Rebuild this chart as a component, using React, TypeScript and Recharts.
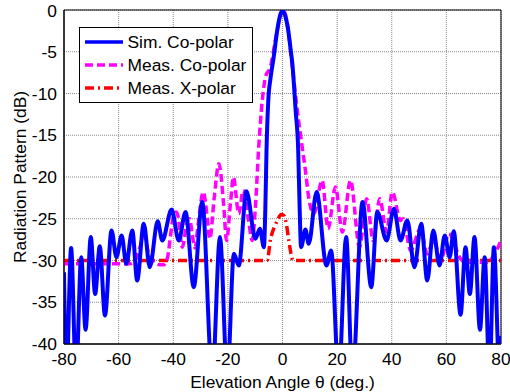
import React from "react"
import { LineChart, Line, XAxis, YAxis, CartesianGrid, Legend, ReferenceArea } from "recharts"

// angles in degrees, gains in dB
const simAngle = [
  -80, -79.1, -77.4, -75.6, -73.7, -72.1, -70.2, -68.6, -66.9, -65.0, -62.6, -60.8, -58.9, -57.2, -55.0,
  -53.2, -50.8, -48.6, -45.7, -44.0, -40.6, -38.0, -35.5, -32.5, -29.4, -25.7, -22.9, -20.2, -17.8, -16.0,
  -13.2, -9.9, -8.3, -6.8, -6.3, -5.85, -5.2, -4.4, -3.2, -2, -1, 0, 1, 2, 3, 3.6, 4.8, 5.75, 6.3, 6.8,
  8.4, 9.6, 12.5, 16.1, 17.8, 20.6, 23.3, 25.6, 29.3, 32.5, 34.7, 38.1, 40.8, 43.2, 45.7, 48.3, 50.8, 53.0,
  55.2, 57.5, 59.4, 61.2, 62.7, 65.2, 67.0, 68.6, 70.3, 72.3, 74.0, 75.8, 77.4, 79.5, 80,
]
const simGain = [
  -31.4, -44, -28.5, -44, -29.6, -38.3, -27.2, -34, -28.3, -36.6, -26.4, -29.6, -27.0, -30.4, -26.4,
  -32.4, -25.6, -30.8, -25.3, -27.6, -23.9, -27.6, -24.2, -33.2, -23.0, -44, -27.2, -44, -29.2, -30.6,
  -21.7, -27.4, -26.2, -28.4, -24, -16.8, -10.8, -8.2, -5.6, -2.6, -0.8, 0, -0.7, -2.2, -4.8, -6.4, -12, -16.8, -24, -28.4,
  -26.3, -28, -21.8, -30.6, -28.8, -44, -27.2, -44, -23.0, -33.2, -24.2, -27.6, -23.8, -27.6, -25.2, -30.8, -25.6, -32.4,
  -26.4, -30.6, -27, -29.6, -26.5, -36.5, -28.4, -34, -27.2, -38.3, -29.6, -44, -28.4, -44, -39,
]

const coAngle = [
  -80, -56, -54, -52, -50.8, -49, -47, -45, -43.4, -42, -41, -40, -39, -38.3, -36.7, -35, -34, -33, -32, -31,
  -29, -27.5, -26.6, -25, -23.3, -21.5, -20.5, -19, -18, -16, -14.4, -12.5, -11.1, -10, -8.7, -7.4, -6.2,
  -4.4, -2.6, -0.8, 0.3, 1.9, 3.6, 5.4, 7.2, 8.5, 9.6, 11.5, 14.5, 16.7, 19.4, 21.9, 24.9, 28.2, 30.8, 33.2,
  35.6, 38.1, 40.2, 43.2, 44.2, 46.9, 50.5, 53.0, 55.4, 57.9, 60.9, 65.2, 67, 75, 77.4, 80,
]
const coGain = [
  -30.4, -30.4, -30.0, -28.2, -27.0, -29.2, -30.2, -30.5, -30.5, -29.5, -27, -24.8, -24.2, -24.6, -28.4, -25.5, -25, -27, -28.5, -26,
  -21.8, -25, -27.4, -22.5, -18.4, -23.5, -27.6, -23, -20, -24.4, -21.6, -25, -27.6, -24, -16.4, -10.8, -8,
  -6.8, -3.6, -0.7, 0, -2, -6.8, -12, -16.4, -19.5, -22.5, -24.4, -20.4, -26.2, -21.2, -26.6, -20.4, -28.4, -22.6, -27.6,
  -22.6, -26.6, -21.8, -25.2, -25.0, -28.8, -26.2, -29.2, -27.6, -30, -26.8, -29.8, -30.2, -30.2, -29.4, -27.6,
]

const xpAngle = [-80, -5.6, -4.4, -3, -2, -0.5, 0.5, 1.5, 2.3, 3.9, 80]
const xpGain = [-30, -30, -27.5, -26, -25.3, -24.5, -24.6, -25.8, -27.6, -30, -30]

const xTicks = [-80, -60, -40, -20, 0, 20, 40, 60, 80]
const yTicks = [-40, -35, -30, -25, -20, -15, -10, -5, 0]

const simData = simAngle.map((a, i) => ({ angle: a, gain: simGain[i] }))
const coData = coAngle.map((a, i) => ({ angle: a, gain: coGain[i] }))
const xpData = xpAngle.map((a, i) => ({ angle: a, gain: xpGain[i] }))

const font = "'Liberation Sans', Arial, sans-serif"
const fs = 17.4

const legendItems = [
  { label: "Sim. Co-polar", color: "#0000ff", dash: undefined },
  { label: "Meas. Co-polar", color: "#ff00ff", dash: "8 4" },
  { label: "Meas. X-polar", color: "#ff0000", dash: "9 4 2 4" },
]

function LegendBox() {
  return (
    <svg width={174} height={76} style={{ display: "block" }}>
      <rect x={0.5} y={0.5} width={173} height={75} fill="#fff" stroke="#000" />
      {legendItems.map((it, i) => (
        <g key={it.label}>
          <line x1={6} x2={44} y1={15 + i * 23} y2={15 + i * 23} stroke={it.color} strokeWidth={3.5} strokeDasharray={it.dash} />
          <text x={48.5} y={21 + i * 23} fontSize={fs} fontFamily={font} fill="#000">{it.label}</text>
        </g>
      ))}
    </svg>
  )
}

export default function App() {
  return (
    <div style={{ position: "absolute", left: 0, top: 0, background: "#fff" }}>
      <LineChart width={510} height={392} margin={{ top: 10, right: 9, left: 0, bottom: 0 }}>
        <CartesianGrid stroke="#888" strokeDasharray="1 1" />
        <XAxis
          dataKey="angle"
          type="number"
          domain={[-80, 80]}
          ticks={xTicks}
          allowDataOverflow
          height={48}
          tickLine={false}
          tickSize={5}
          tickMargin={4}
          stroke="#000"
          tick={{ fill: "#000", fontSize: fs, fontFamily: font }}
          label={{ value: "Elevation Angle θ (deg.)", position: "insideBottom", offset: 4, fill: "#000", fontSize: fs, fontFamily: font }}
        />
        <YAxis
          dataKey="gain"
          type="number"
          domain={[-40, 0]}
          ticks={yTicks}
          allowDataOverflow
          width={64}
          tickLine={false}
          tickSize={4}
          tickMargin={3}
          stroke="#000"
          tick={{ fill: "#000", fontSize: fs, fontFamily: font }}
          label={{ value: "Radiation Pattern (dB)", angle: -90, position: "insideLeft", offset: 20, fill: "#000", fontSize: fs, fontFamily: font, style: { textAnchor: "middle" } }}
        />
        <Line data={xpData} dataKey="gain" type="monotone" stroke="#ff0000" strokeWidth={3.5} strokeDasharray="9 4 2 4" dot={false} activeDot={false} isAnimationActive={false} />
        <Line data={coData} dataKey="gain" type="monotone" stroke="#ff00ff" strokeWidth={3.5} strokeDasharray="8 4" dot={false} activeDot={false} isAnimationActive={false} />
        <Line data={simData} dataKey="gain" type="monotone" stroke="#0000ff" strokeWidth={4} dot={false} activeDot={false} isAnimationActive={false} />
        <ReferenceArea x1={-80} x2={80} y1={-40} y2={0} fill="none" stroke="#000" strokeWidth={1} />
        <Legend
          layout="horizontal"
          verticalAlign="middle"
          align="center"
          content={() => <LegendBox />}
          wrapperStyle={{ left: 79, top: 27, width: 174, height: 76 }}
        />
      </LineChart>
    </div>
  )
}
